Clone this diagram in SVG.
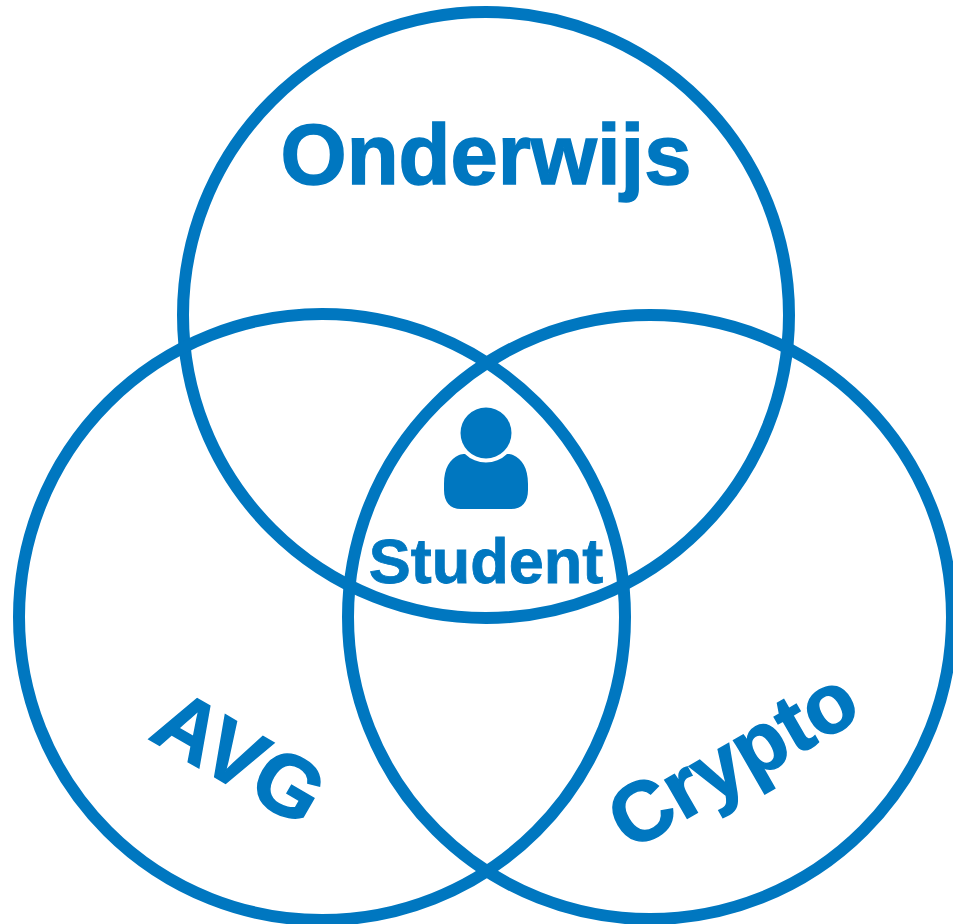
<svg xmlns="http://www.w3.org/2000/svg" width="953" height="924" viewBox="0 0 953 924">
<style>
.c{fill:none;stroke:#0077c0;stroke-width:12}
.t{fill:#0077c0;stroke:#0077c0;stroke-width:1.500;font-family:"Liberation Sans",Arial,sans-serif;font-weight:700}
</style>
<rect width="953" height="924" fill="#fff"/>
<g id="connectors"></g>
<g id="onderwijs"><circle class="c" cx="486" cy="315" r="303"/><text class="t" x="486" y="184" font-size="85" text-anchor="middle">Onderwijs</text></g>
<g id="avg"><circle class="c" cx="322" cy="617" r="303"/><text class="t" font-size="86" text-anchor="middle" transform="translate(225 783) rotate(30)">AVG</text></g>
<g id="crypto"><circle class="c" cx="650" cy="617" r="302"/><text class="t" font-size="84" text-anchor="middle" transform="translate(747 784) rotate(-30)">Crypto</text></g>
<g id="student">
<circle cx="486" cy="433" r="25.500" fill="#0077c0"/>
<path d="M465 454A30 30 0 0 0 507 454C509 454 511 454 513 455C522 459 528 468 528 484V490C528 502 522 509 511 509H461C450 509 444 502 444 490V484C444 468 450 459 459 455C461 454 463 454 465 454Z" fill="#0077c0"/>
<text class="t" x="486" y="583" font-size="63" text-anchor="middle" style="stroke-width:.8">Student</text>
</g>
</svg>
